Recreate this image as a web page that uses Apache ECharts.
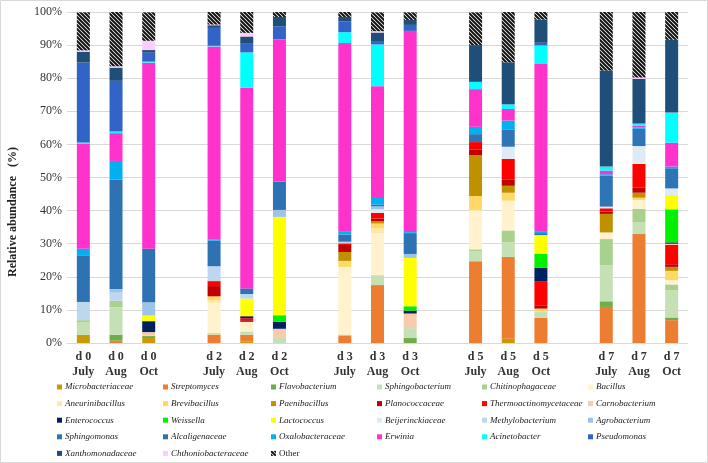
<!DOCTYPE html>
<html>
<head>
<meta charset="utf-8">
<script src="https://cdn.jsdelivr.net/npm/echarts@6/dist/echarts.min.js"></script>
<style>html,body{margin:0;padding:0;background:#fff}#c{width:708px;height:463px}</style>
</head>
<body>
<div id="c"></div>
<script>
// Bars: d0 July, d0 Aug, d0 Oct, d2 July, d2 Aug, d2 Oct, d3 July, d3 Aug, d3 Oct, d5 July, d5 Aug, d5 Oct, d7 July, d7 Aug, d7 Oct
const days = ['d 0', 'd 2', 'd 3', 'd 5', 'd 7'];
const months = ['July', 'Aug', 'Oct'];
const yTicks = [0, 10, 20, 30, 40, 50, 60, 70, 80, 90, 100];

const Microbacteriaceae      = [2.5, 0, 1.5, 0, 0.5, 0, 0, 0, 0, 0, 1.3, 0, 0, 0, 0];
const Streptomyces           = [0, 0.7, 0, 2.5, 2.0, 0, 2.3, 17.5, 0, 24.7, 24.7, 7.6, 10.9, 32.9, 6.9];
const Flavobacterium         = [0, 1.8, 0.6, 0, 0, 0, 0, 0, 1.5, 0, 0, 0, 1.7, 0, 0.8];
const Sphingobacterium       = [3.7, 8.3, 0.2, 0.5, 1.0, 1.5, 0.3, 3.0, 3.0, 3.0, 4.4, 2.0, 10.9, 3.5, 8.2];
const Chitinophagaceae       = [0.7, 2.0, 0, 0, 0, 0, 0, 0, 0, 0.6, 3.6, 0, 7.9, 4.1, 1.8];
const Bacillus               = [0, 0, 0, 9.1, 2.9, 0, 20.4, 12.6, 0, 11.8, 9.0, 0, 2.0, 2.7, 1.3];
const Aneurinibacillus       = [0, 0, 0, 0.8, 0, 0, 0, 1.5, 0, 0, 0, 0, 0, 0, 0];
const Brevibacillus          = [0, 0, 0, 1.2, 0, 0.3, 1.8, 1.5, 0, 4.3, 2.4, 0.8, 0, 0.7, 2.8];
const Paenibacillus          = [0, 0, 0, 0, 0, 0, 2.7, 0.7, 0, 12.3, 2.1, 0, 5.6, 1.5, 1.2];
const Planococcaceae         = [0, 0, 0, 3.1, 0.5, 0, 2.1, 0.8, 0, 1.8, 1.8, 1.0, 0.7, 1.5, 0.8];
const Thermoactinomycetaceae = [0, 0, 0, 1.5, 0.6, 0, 0.5, 1.7, 0, 2.2, 6.3, 7.3, 1.0, 7.2, 5.8];
const Carnobacterium         = [0, 0, 1.0, 0, 0, 2.5, 0, 0, 4.4, 0, 0, 0, 0, 0, 0.4];
const Enterococcus           = [0, 0, 3.3, 0, 0.6, 2.1, 0, 0, 0.9, 0, 0, 4.0, 0, 0, 0.4];
const Weissella              = [0, 0, 0, 0, 0, 2.0, 0, 0, 1.3, 0, 0, 4.3, 0, 0, 10.0];
const Lactococcus            = [0, 0, 1.7, 0, 5.3, 29.7, 0, 0, 14.6, 0, 0, 5.6, 0, 0, 4.3];
const Beijerinckiaceae       = [0, 0, 0, 0, 0, 0, 0, 1.1, 0, 0, 3.7, 0, 0.5, 5.4, 2.0];
const Methylobacterium       = [5.5, 2.4, 0, 4.5, 1.4, 0, 0.5, 0, 0, 0, 0, 0, 0, 0, 0];
const Agrobacterium          = [0, 1.1, 4.0, 0, 0, 2.1, 0, 0.9, 1.2, 0, 0, 0, 0, 0, 0];
const Sphingomonas           = [0, 0, 0, 0, 0, 0, 0, 0, 0, 2.4, 5.1, 0, 9.4, 5.2, 6.1];
const Alcaligenaceae         = [14.1, 33.1, 16.2, 7.7, 1.7, 8.5, 2.2, 0.5, 6.3, 0, 0, 0.6, 0, 0, 0];
const Oxalobacteraceae       = [2.0, 5.6, 0, 0.3, 0, 0, 1.0, 2.0, 0.3, 2.2, 2.8, 0.6, 0.4, 0.4, 0.5];
const Erwinia                = [31.8, 8.4, 56.2, 58.4, 60.6, 43.1, 56.8, 33.8, 60.8, 11.4, 3.5, 50.5, 1.1, 0.6, 7.2];
const Acinetobacter          = [0.3, 0.5, 0.3, 0.2, 10.7, 0, 3.3, 12.6, 0, 2.2, 1.4, 5.6, 1.2, 0.6, 9.1];
const Pseudomonas            = [24.1, 15.3, 2.7, 5.4, 2.6, 3.9, 3.3, 0.8, 1.8, 0, 0, 0.8, 0, 0, 0];
const Xanthomonadaceae       = [3.3, 4.0, 0.8, 0.8, 2.2, 2.8, 1.3, 2.8, 1.5, 11.1, 12.7, 7.0, 29.0, 13.5, 22.0];
const Chthoniobacteraceae    = [0.4, 0.4, 2.8, 0.2, 1.1, 0, 0, 0.4, 0, 0, 0, 0, 0, 0.4, 0];
const Other                  = [11.5, 16.4, 8.6, 3.8, 6.3, 1.5, 1.5, 5.7, 2.3, 9.9, 15.2, 2.3, 17.7, 19.8, 8.4];

const seriesDefs = [
  ['Microbacteriaceae', Microbacteriaceae, '#C99A06'],
  ['Streptomyces', Streptomyces, '#ED7D31'],
  ['Flavobacterium', Flavobacterium, '#70AD47'],
  ['Sphingobacterium', Sphingobacterium, '#C5E0B4'],
  ['Chitinophagaceae', Chitinophagaceae, '#A9D18E'],
  ['Bacillus', Bacillus, '#FFF2CC'],
  ['Aneurinibacillus', Aneurinibacillus, '#FFE9A8'],
  ['Brevibacillus', Brevibacillus, '#FFD966'],
  ['Paenibacillus', Paenibacillus, '#BF9000'],
  ['Planococcaceae', Planococcaceae, '#C00000'],
  ['Thermoactinomycetaceae', Thermoactinomycetaceae, '#FF0000'],
  ['Carnobacterium', Carnobacterium, '#F8CBAD'],
  ['Enterococcus', Enterococcus, '#002060'],
  ['Weissella', Weissella, '#00F000'],
  ['Lactococcus', Lactococcus, '#FFFF00'],
  ['Beijerinckiaceae', Beijerinckiaceae, '#DEEBF7'],
  ['Methylobacterium', Methylobacterium, '#BDD7EE'],
  ['Agrobacterium', Agrobacterium, '#9DC3E6'],
  ['Sphingomonas', Sphingomonas, '#2E75B6'],
  ['Alcaligenaceae', Alcaligenaceae, '#2E72B4'],
  ['Oxalobacteraceae', Oxalobacteraceae, '#00B0F0'],
  ['Erwinia', Erwinia, '#FF33CC'],
  ['Acinetobacter', Acinetobacter, '#00FFFF'],
  ['Pseudomonas', Pseudomonas, '#3264C8'],
  ['Xanthomonadaceae', Xanthomonadaceae, '#1F4E79'],
  ['Chthoniobacteraceae', Chthoniobacteraceae, '#FFCCFF'],
  ['Other', Other, 'pattern']
];

const legendCols = [
  ['Microbacteriaceae', 'Aneurinibacillus', 'Enterococcus', 'Sphingomonas', 'Xanthomonadaceae'],
  ['Streptomyces', 'Brevibacillus', 'Weissella', 'Alcaligenaceae', 'Chthoniobacteraceae'],
  ['Flavobacterium', 'Paenibacillus', 'Lactococcus', 'Oxalobacteraceae', 'Other'],
  ['Sphingobacterium', 'Planococcaceae', 'Beijerinckiaceae', 'Erwinia'],
  ['Chitinophagaceae', 'Thermoactinomycetaceae', 'Methylobacterium', 'Acinetobacter'],
  ['Bacillus', 'Carnobacterium', 'Agrobacterium', 'Pseudomonas']
];
const legendX = [57, 163, 271, 377, 482, 588];

// hatch pattern for "Other"
const pc = document.createElement('canvas');
pc.width = 4; pc.height = 4;
const pctx = pc.getContext('2d');
pctx.fillStyle = '#ffffff'; pctx.fillRect(0, 0, 4, 4);
pctx.strokeStyle = '#111111'; pctx.lineWidth = 2;
pctx.beginPath();
pctx.moveTo(-1, -1); pctx.lineTo(5, 5);
pctx.moveTo(-1, 3); pctx.lineTo(1, 5);
pctx.moveTo(3, -1); pctx.lineTo(5, 1);
pctx.stroke();
const hatch = { image: pc, repeat: 'repeat' };

// build x categories with one empty slot between day groups
const xCats = [];
const slotIndex = [];
days.forEach((d, g) => {
  months.forEach((m) => { slotIndex.push(xCats.length); xCats.push(d + '\n' + m); });
  if (g < days.length - 1) xCats.push('');
});

const serif = '"Liberation Serif", "Times New Roman", serif';

const series = seriesDefs.map(([name, vals, color]) => {
  const data = xCats.map(() => '-');
  vals.forEach((v, i) => { data[slotIndex[i]] = v; });
  return {
    name, type: 'bar', stack: 'all', barWidth: 13, data,
    itemStyle: { color: color === 'pattern' ? hatch : color },
    emphasis: { disabled: true }
  };
});

const legends = legendCols.map((names, i) => ({
  orient: 'vertical', left: legendX[i], top: 381, padding: 0,
  itemWidth: 5, itemHeight: 5, itemGap: 4.6, icon: 'rect',
  selectedMode: false,
  textStyle: { fontFamily: serif, fontStyle: 'italic', fontSize: 9, color: '#222', lineHeight: 12, padding: [0, 0, 0, -2] },
  data: names.map(n => n === 'Other' ? { name: n, textStyle: { fontStyle: 'normal' } } : n)
}));

const chart = echarts.init(document.getElementById('c'), null, { renderer: 'canvas' });
chart.setOption({
  animation: false,
  backgroundColor: '#fff',
  grid: { left: 67, right: 20, top: 12, bottom: 120, containLabel: false },
  xAxis: {
    type: 'category', data: xCats,
    axisTick: { show: false },
    axisLine: { lineStyle: { color: '#D9D9D9', width: 1 } },
    axisLabel: { interval: 0, fontFamily: serif, fontWeight: 'bold', fontSize: 12, color: '#333', lineHeight: 15, margin: 6 }
  },
  yAxis: {
    type: 'value', min: yTicks[0], max: yTicks[yTicks.length - 1], interval: 10,
    axisLine: { show: false }, axisTick: { show: false },
    splitLine: { lineStyle: { color: '#D9D9D9', width: 1 } },
    axisLabel: { fontFamily: serif, fontSize: 12, color: '#333', margin: 5, formatter: '{value}%' }
  },
  legend: legends,
  series,
  graphic: [
    { type: 'rect', shape: { x: 0.5, y: 0.5, width: 707, height: 462 }, style: { fill: 'none', stroke: '#D9D9D9' }, silent: true },
    { type: 'text', x: 13, y: 212, rotation: Math.PI / 2,
      style: { text: 'Relative abundance   (%)', align: 'center', verticalAlign: 'middle', font: 'bold 12px ' + serif, fill: '#222' } }
  ]
});
</script>
</body>
</html>
